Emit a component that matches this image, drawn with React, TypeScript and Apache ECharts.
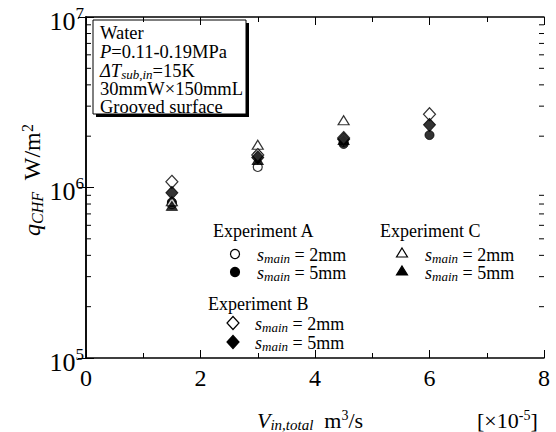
import React, { useEffect, useRef } from "react";
import * as echarts from "echarts";

const FONT = "Liberation Serif";

// Flow rate (x 1e-5 m^3/s)
const flowRates = [1.5, 3, 4.5, 6];

// Critical heat flux, W/m^2 (null = no run)
const expA2mm = [0.8e6, 1.32e6, 1.85e6, null];
const expA5mm = [0.82e6, 1.55e6, 1.8e6, 2.03e6];
const expB2mm = [1.08e6, 1.55e6, 1.95e6, 2.69e6];
const expB5mm = [0.93e6, 1.5e6, 1.92e6, 2.33e6];
const expC2mm = [0.83e6, 1.78e6, 2.48e6, null];
const expC5mm = [0.78e6, 1.45e6, 1.9e6, null];

const xTicks = [0, 2, 4, 6, 8];
const yMinorTicks = [2e5, 3e5, 4e5, 5e5, 6e5, 7e5, 8e5, 9e5, 2e6, 3e6, 4e6, 5e6, 6e6, 7e6, 8e6, 9e6];

const infoLines = [
  "{n|Water}",
  "{i|P}{n|=0.11-0.19MPa}",
  "{i|\u0394T}{sub|sub,in}{n|=15K}",
  "{n|30mmW\u00d7150mmL}",
  "{n|Grooved surface}",
];

const pairs = (ys: (number | null)[]) =>
  flowRates.map((x, i) => [x, ys[i]]).filter((p) => p[1] != null);

const openStyle = { color: "#fff", borderColor: "#000", borderWidth: 1.2 };
const solidStyle = { color: "#000", borderColor: "#000", borderWidth: 1 };

const smainRich = {
  i: { fontFamily: FONT, fontStyle: "italic", fontSize: 18, lineHeight: 15, color: "#000" },
  sub: {
    fontFamily: FONT,
    fontStyle: "italic",
    fontSize: 13,
    lineHeight: 9,
    padding: [7, 0, 0, 0],
    color: "#000",
  },
  n: { fontFamily: FONT, fontSize: 18, lineHeight: 15, color: "#000" },
};

function legendText(x: number, y: number, mm: string) {
  return {
    type: "text",
    x,
    y,
    style: {
      text: `{i|s}{sub|main}{n| = ${mm}}`,
      rich: smainRich,
      verticalAlign: "middle",
      align: "left",
    },
  };
}

function plainText(x: number, y: number, text: string, size = 18) {
  return {
    type: "text",
    x,
    y,
    style: { text, fontFamily: FONT, fontSize: size, fill: "#000", verticalAlign: "middle", align: "left" },
  };
}

function diamond(cx: number, cy: number, filled: boolean) {
  return {
    type: "polygon",
    shape: { points: [[cx, cy - 6.5], [cx + 6, cy], [cx, cy + 6.5], [cx - 6, cy]] },
    style: { fill: filled ? "#000" : "#fff", stroke: "#000", lineWidth: 1.2 },
  };
}

function triangle(cx: number, cy: number, filled: boolean) {
  return {
    type: "polygon",
    shape: { points: [[cx, cy - 5], [cx + 5.5, cy + 4], [cx - 5.5, cy + 4]] },
    style: { fill: filled ? "#000" : "#fff", stroke: "#000", lineWidth: 1.2 },
  };
}

function dot(cx: number, cy: number, filled: boolean) {
  return {
    type: "circle",
    shape: { cx, cy, r: 4.5 },
    style: { fill: filled ? "#000" : "#fff", stroke: "#000", lineWidth: 1.2 },
  };
}

export default function App() {
  const ref = useRef<HTMLDivElement>(null);

  useEffect(() => {
    if (!ref.current) return;
    const chart = echarts.init(ref.current, null, { renderer: "svg" });

    const boxRich = {
      i: { fontFamily: FONT, fontStyle: "italic", fontSize: 18.5, lineHeight: 15, color: "#000" },
      n: { fontFamily: FONT, fontSize: 18.5, lineHeight: 15, color: "#000" },
      sub: {
        fontFamily: FONT,
        fontStyle: "italic",
        fontSize: 13,
        lineHeight: 9,
        padding: [7, 0, 0, 0],
        color: "#000",
      },
    };
    const lineYs = [33, 52, 70.5, 89, 107];

    const option: any = {
      animation: false,
      backgroundColor: "#fff",
      grid: { left: 86, right: 12, top: 14, bottom: 74 },
      xAxis: [
        {
          type: "value",
          min: xTicks[0],
          max: xTicks[xTicks.length - 1],
          interval: 2,
          axisLine: { show: true, lineStyle: { color: "#000", width: 1.5 } },
          axisTick: { show: true, inside: true, length: 8, lineStyle: { color: "#000", width: 1 } },
          minorTick: { show: true, splitNumber: 2, length: 5, lineStyle: { color: "#000", width: 1 } },
          splitLine: { show: false },
          axisLabel: { fontFamily: FONT, fontSize: 24, color: "#000", margin: 8 },
        },
        {
          type: "value",
          position: "top",
          min: xTicks[0],
          max: xTicks[xTicks.length - 1],
          interval: 2,
          axisLine: { show: true, lineStyle: { color: "#000", width: 1.5 } },
          axisTick: { show: true, inside: true, length: 8, lineStyle: { color: "#000", width: 1 } },
          minorTick: { show: true, splitNumber: 2, length: 5, lineStyle: { color: "#000", width: 1 } },
          splitLine: { show: false },
          axisLabel: { show: false },
        },
      ],
      yAxis: [
        {
          type: "log",
          logBase: 10,
          min: 1e5,
          max: 1e7,
          axisLine: { show: true, lineStyle: { color: "#000", width: 1.5 } },
          axisTick: { show: true, inside: true, length: 8, lineStyle: { color: "#000", width: 1 } },
          splitLine: { show: false },
          axisLabel: {
            margin: 2,
            formatter: (v: number) => `{b|10}{s|${Math.round(Math.log10(v))}}`,
            rich: {
              b: { fontFamily: FONT, fontSize: 26, lineHeight: 26, color: "#000", padding: [8, 0, 0, 0] },
              s: { fontFamily: FONT, fontSize: 17, lineHeight: 17, color: "#000", padding: [0, 0, 8, 0] },
            },
          },
        },
        {
          type: "log",
          logBase: 10,
          min: 1e5,
          max: 1e7,
          position: "right",
          axisLine: { show: true, lineStyle: { color: "#000", width: 1.5 } },
          axisTick: { show: true, inside: true, length: 8, lineStyle: { color: "#000", width: 1 } },
          splitLine: { show: false },
          axisLabel: { show: false },
        },
      ],
      series: [
        {
          type: "custom",
          silent: true,
          clip: false,
          data: yMinorTicks.map((v) => [0, v]),
          renderItem: (_p: any, api: any) => {
            const v = api.value(1);
            const l = api.coord([xTicks[0], v]);
            const r = api.coord([xTicks[xTicks.length - 1], v]);
            return {
              type: "group",
              children: [
                { type: "line", shape: { x1: l[0], y1: l[1], x2: l[0] + 5, y2: l[1] }, style: { stroke: "#000", lineWidth: 1 } },
                { type: "line", shape: { x1: r[0] - 5, y1: r[1], x2: r[0], y2: r[1] }, style: { stroke: "#000", lineWidth: 1 } },
              ],
            };
          },
        },
        { name: "A 2mm", type: "scatter", symbol: "circle", symbolSize: 9, data: pairs(expA2mm), itemStyle: openStyle },
        { name: "A 5mm", type: "scatter", symbol: "circle", symbolSize: 9, data: pairs(expA5mm), itemStyle: solidStyle },
        { name: "C 2mm", type: "scatter", symbol: "triangle", symbolSize: [11, 9], data: pairs(expC2mm), itemStyle: openStyle },
        { name: "C 5mm", type: "scatter", symbol: "triangle", symbolSize: [11, 9], data: pairs(expC5mm), itemStyle: solidStyle },
        { name: "B 2mm", type: "scatter", symbol: "diamond", symbolSize: [12, 13], data: pairs(expB2mm), itemStyle: openStyle },
        { name: "B 5mm", type: "scatter", symbol: "diamond", symbolSize: [12, 13], data: pairs(expB5mm), itemStyle: solidStyle },
      ],
      graphic: [
        // condition box with drop shadow
        { type: "rect", shape: { x: 96, y: 23, width: 153, height: 94 }, style: { fill: "#000" } },
        { type: "rect", shape: { x: 93, y: 20, width: 153, height: 94 }, style: { fill: "#fff", stroke: "#000", lineWidth: 1 } },
        ...infoLines.map((t, k) => ({
          type: "text",
          x: 100,
          y: lineYs[k],
          style: { text: t, rich: boxRich, verticalAlign: "middle", align: "left" },
        })),
        // legend
        plainText(213, 231, "Experiment A"),
        dot(235, 254, false),
        dot(235, 272, true),
        legendText(257, 255, "2mm"),
        legendText(257, 273, "5mm"),
        plainText(380, 231, "Experiment C"),
        triangle(402, 253, false),
        triangle(402, 271, true),
        legendText(425, 255, "2mm"),
        legendText(425, 273, "5mm"),
        plainText(208, 304, "Experiment B"),
        diamond(233, 323, false),
        diamond(233, 342, true),
        legendText(255, 324, "2mm"),
        legendText(255, 343, "5mm"),
        // axis titles
        {
          type: "text",
          x: 32,
          y: 180,
          rotation: Math.PI / 2,
          style: {
            text: "{i|q}{sub|CHF}{n|  W/m}{sup|2}",
            align: "center",
            verticalAlign: "middle",
            rich: {
              i: { fontFamily: FONT, fontStyle: "italic", fontSize: 24, lineHeight: 22, color: "#000" },
              sub: { fontFamily: FONT, fontStyle: "italic", fontSize: 16, lineHeight: 12, padding: [10, 0, 0, 0], color: "#000" },
              n: { fontFamily: FONT, fontSize: 24, lineHeight: 22, color: "#000" },
              sup: { fontFamily: FONT, fontSize: 16, lineHeight: 12, padding: [0, 0, 10, 0], color: "#000" },
            },
          },
        },
        {
          type: "text",
          x: 257,
          y: 420,
          style: {
            text: "{i|V}{sub|in,total}{n|  m}{sup|3}{n|/s}",
            align: "left",
            verticalAlign: "middle",
            rich: {
              i: { fontFamily: FONT, fontStyle: "italic", fontSize: 22, lineHeight: 20, color: "#000" },
              sub: { fontFamily: FONT, fontStyle: "italic", fontSize: 15, lineHeight: 11, padding: [9, 0, 0, 0], color: "#000" },
              n: { fontFamily: FONT, fontSize: 22, lineHeight: 20, color: "#000" },
              sup: { fontFamily: FONT, fontSize: 14, lineHeight: 11, padding: [0, 0, 9, 0], color: "#000" },
            },
          },
        },
        {
          type: "text",
          x: 477,
          y: 420,
          style: {
            text: "{n|[\u00d710}{sup|-5}{n|]}",
            align: "left",
            verticalAlign: "middle",
            rich: {
              n: { fontFamily: FONT, fontSize: 22, lineHeight: 20, color: "#000" },
              sup: { fontFamily: FONT, fontSize: 14, lineHeight: 11, padding: [0, 0, 9, 0], color: "#000" },
            },
          },
        },
      ],
    };

    chart.setOption(option);
    return () => chart.dispose();
  }, []);

  return <div ref={ref} style={{ width: 556, height: 432, position: "absolute", left: 0, top: 0 }} />;
}
